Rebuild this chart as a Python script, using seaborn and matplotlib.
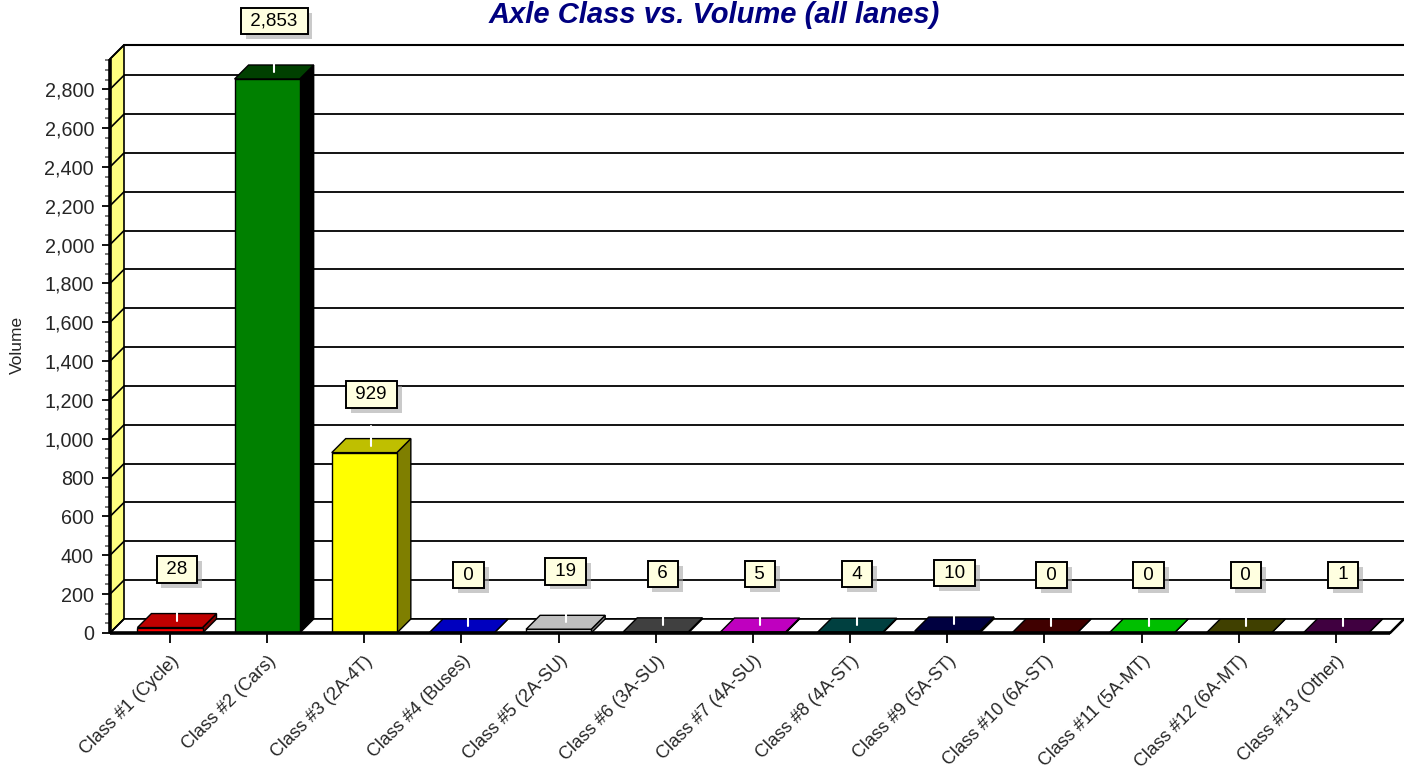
import matplotlib
matplotlib.use("Agg")
import matplotlib.pyplot as plt
import matplotlib.patheffects as pe
from matplotlib.patches import Polygon
from matplotlib.ticker import FuncFormatter, FixedLocator
import seaborn as sns
import pandas as pd

# ---- data -------------------------------------------------------------
categories = ["Class #1 (Cycle)", "Class #2 (Cars)", "Class #3 (2A-4T)",
              "Class #4 (Buses)", "Class #5 (2A-SU)", "Class #6 (3A-SU)",
              "Class #7 (4A-SU)", "Class #8 (4A-ST)", "Class #9 (5A-ST)",
              "Class #10 (6A-ST)", "Class #11 (5A-MT)", "Class #12 (6A-MT)",
              "Class #13 (Other)"]
volumes = [28, 2853, 929, 0, 19, 6, 5, 4, 10, 0, 0, 0, 1]
y_major = list(range(0, 2801, 200))
title = "Axle Class vs. Volume (all lanes)"

# ---- styling ----------------------------------------------------------
bar_colors = ["#FF0000", "#008000", "#FFFF00", "#0000FF", "#FFFFFF",
              "#808080", "#FF00FF", "#008080", "#000080", "#800000",
              "#00FF00", "#808000", "#800080"]
wall_color = "#FFFF80"
label_fill = "#FFFFE0"


def darker(hex_color, amount):
    r, g, b = (int(hex_color[i:i + 2], 16) for i in (1, 3, 5))
    return "#{:02X}{:02X}{:02X}".format(*(max(c - amount, 0) for c in (r, g, b)))


sns.set_style("white")
plt.rcParams["font.family"] = ["Liberation Sans", "DejaVu Sans"]

W, H = 1404, 769
fig = plt.figure(figsize=(W / 100, H / 100), dpi=100)

# plot box in pixels (front-left corner at bottom-left, back plane shifted)
left_px, right_px, top_px, bottom_px = 110, 1404, 45, 633
depth_px = 14
ax = fig.add_axes([left_px / W, 1 - bottom_px / H,
                   (right_px - left_px) / W, (bottom_px - top_px) / H])

X0, X1 = -0.617, 12.556      # front floor extent in category units
YTOP = 2956                  # front top of value axis
ppx = (right_px - left_px - depth_px) / (X1 - X0)   # pixels per category
ppy = (bottom_px - top_px - depth_px) / YTOP         # pixels per unit volume
dx = depth_px / ppx
dy = depth_px / ppy
XR = X1 + dx
YR = YTOP + dy

df = pd.DataFrame({"category": categories, "volume": volumes})
sns.barplot(data=df, x="category", y="volume", hue="category",
            palette=bar_colors, saturation=1, width=0.67,
            edgecolor="black", linewidth=1.0, legend=False, ax=ax, zorder=4)

ax.set_xlim(X0, XR)
ax.set_ylim(0, YR)
for s in ax.spines.values():
    s.set_visible(False)
ax.set_facecolor("none")

# ---- walls, floor, grid -------------------------------------------------
wall = Polygon([(X0, 0), (X0, YTOP), (X0 + dx, YR), (X0 + dx, dy)],
               closed=True, fc=wall_color, ec="black", lw=1.2, zorder=2,
               clip_on=False)
ax.add_patch(wall)
floor = Polygon([(X0, 0), (X1, 0), (XR, dy), (X0 + dx, dy)], closed=True,
                fc="white", ec="black", lw=1.2, zorder=2, clip_on=False)
ax.add_patch(floor)

for v in y_major:
    ax.plot([X0 + dx, XR], [v + dy, v + dy], color="black", lw=1.3,
            zorder=1.5, clip_on=False)
    ax.plot([X0, X0 + dx], [v, v + dy], color="black", lw=1.2, zorder=2.5,
            clip_on=False)
ax.plot([X0 + dx, XR], [YR, YR], color="black", lw=1.5, zorder=1.5,
        clip_on=False)
ax.plot([X0, X0 + dx], [YTOP, YR], color="black", lw=1.3, zorder=2.5,
        clip_on=False)
ax.plot([X0, X0], [0, YTOP], color="black", lw=2.6, zorder=6,
        clip_on=False, solid_capstyle="butt")
ax.plot([X0, X1], [0, 0], color="black", lw=2.6, zorder=6, clip_on=False,
        solid_capstyle="butt")
ax.plot([X1, XR], [0, dy], color="black", lw=1.8, zorder=6, clip_on=False)

# ---- 3-D faces of each bar ---------------------------------------------
for p in ax.patches[:]:
    if not hasattr(p, "get_width") or p.get_width() == 0:
        continue
    x, w, h = p.get_x(), p.get_width(), p.get_height()
    idx = int(round(x + w / 2))
    if idx < 0 or idx >= len(categories) or p.get_zorder() != 4:
        continue
    col = bar_colors[idx]
    side = Polygon([(x + w, 0), (x + w + dx, dy), (x + w + dx, h + dy),
                    (x + w, h)], closed=True, fc=darker(col, 0x80),
                   ec="black", lw=1.0, zorder=3.5)
    top = Polygon([(x, h), (x + w, h), (x + w + dx, h + dy), (x + dx, h + dy)],
                  closed=True, fc=darker(col, 0x40), ec="black", lw=1.0,
                  zorder=3.6)
    ax.add_patch(side)
    ax.add_patch(top)

# ---- value labels -------------------------------------------------------
for i, v in enumerate(volumes):
    xc = i + dx / 2
    yc = v + dy / 2
    ax.plot([xc, xc], [yc, yc + 20 / ppy], color="white", lw=1.5, zorder=5,
            clip_on=False)
    t = ax.annotate(f" {v:,} ", xy=(xc, yc), xytext=(0, 36.7),
                    textcoords="offset points", ha="center", va="center",
                    fontsize=13.5, color="black", zorder=8,
                    annotation_clip=False,
                    bbox=dict(boxstyle="square,pad=0.25", fc=label_fill,
                              ec="black", lw=1.4))
    t.get_bbox_patch().set_path_effects([
        pe.SimplePatchShadow(offset=(3.5, -3.5), shadow_rgbFace="#a0a0a0",
                             alpha=0.55),
        pe.Normal()])

# ---- axes ticks ---------------------------------------------------------
ax.yaxis.set_major_locator(FixedLocator(y_major))
ax.yaxis.set_minor_locator(FixedLocator(
    [m for m in range(0, 2951, 50) if m % 200 != 0]))
ax.yaxis.set_major_formatter(FuncFormatter(lambda v, _: f"{int(v):,}"))
ax.tick_params(axis="y", which="major", left=True, length=6, width=1.3,
               direction="out", pad=5.5, labelsize=14.2, color="black")
ax.tick_params(axis="y", which="minor", left=True, length=3.5, width=1.1,
               direction="out", color="#555555")
ax.set_xticks(range(len(categories)))
ax.set_xticklabels(categories, rotation=45, ha="right", va="top",
                   rotation_mode="anchor", fontsize=13)
ax.tick_params(axis="x", bottom=True, length=7, width=1.3, direction="out",
               pad=7, color="black")
ax.set_xlabel("")
ax.set_ylabel("")

fig.text(17 / W, 1 - 345 / H, "Volume", rotation=90, ha="center",
         va="center", fontsize=12.5)
fig.text(714 / W, 1 - 15 / H, title, ha="center", va="center", fontsize=21,
         fontweight="bold", fontstyle="italic", color="#000080")

fig.savefig("out.png", dpi=100)
